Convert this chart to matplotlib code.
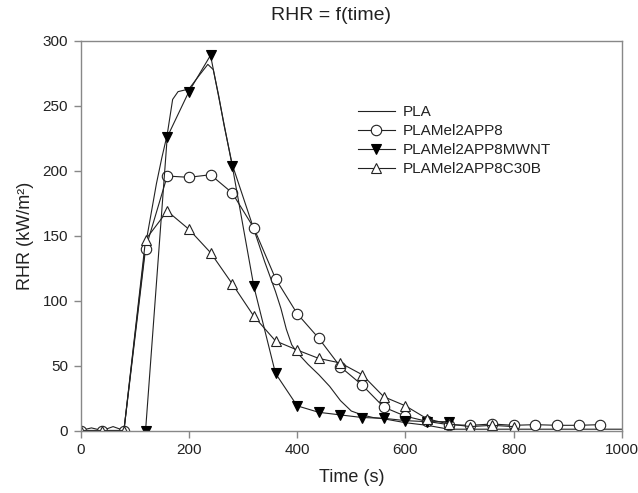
import matplotlib
matplotlib.use("Agg")
import matplotlib.pyplot as plt

plt.rcParams['font.family'] = ['Liberation Sans', 'DejaVu Sans']

# PLA (smooth line, no markers)
pla_t = [0, 20, 40, 60, 80, 100, 120, 140, 150, 160, 170, 180, 200, 220, 235, 245, 255, 265,
         280, 300, 320, 340, 360, 370, 380, 390, 400, 420, 440, 460, 480, 500, 520, 540, 560,
         600, 640, 680, 720, 800, 900, 1000]
pla_v = [0, 2, 0, 3, 0, 72, 143, 190, 210, 228, 255, 261, 263, 274, 282, 278, 258, 235,
         205, 180, 155, 130, 107, 94, 78, 66, 60, 51, 43, 34, 23, 15, 12, 10, 9,
         6, 4, 1, 1, 1, 1, 1]

# PLAMel2APP8 (open circles)
app8_t = [0, 40, 80, 120, 160, 200, 240, 280, 320, 360, 400, 440, 480, 520, 560, 600,
          640, 680, 720, 760, 800, 840, 880, 920, 960]
app8_v = [0, 0, 0, 140, 196, 195, 197, 183, 156, 117, 90, 71, 49, 35, 18, 11,
          7, 4.5, 4, 5, 4, 4.5, 4, 4, 4.5]

# PLAMel2APP8MWNT (filled down triangles)
mwnt_t = [120, 160, 200, 240, 280, 320, 360, 400, 440, 480, 520, 560, 600, 640, 680]
mwnt_v = [0, 226, 261, 289, 204, 111, 44, 19, 14, 12, 10, 9.4, 7.6, 6.8, 6.8]

# PLAMel2APP8C30B (open up triangles)
c30b_t = [0, 40, 80, 120, 160, 200, 240, 280, 320, 360, 400, 440, 480, 520, 560, 600,
          640, 680, 720, 760, 800]
c30b_v = [0, 0, 0, 147, 169, 155, 137, 113, 88, 69, 62, 55.5, 52, 43, 26, 19,
          9, 5, 3, 4, 3]

labels = ["PLA", "PLAMel2APP8", "PLAMel2APP8MWNT", "PLAMel2APP8C30B"]

fig = plt.figure(figsize=(6.38, 4.93), dpi=100)
ax = fig.add_axes([80.6/638, 1-430.5/493, (622-80.6)/638, (430.5-41)/493])

lw = 0.8
ms = 7.5
ax.plot(pla_t, pla_v, color='#222222', lw=lw, label=labels[0])
ax.plot(app8_t, app8_v, color='#222222', lw=lw, marker='o', ms=ms,
        mfc='white', mec='#222222', mew=0.8, label=labels[1])
ax.plot(mwnt_t, mwnt_v, color='#222222', lw=lw, marker='v', ms=ms,
        mfc='black', mec='black', mew=0.8, label=labels[2])
ax.plot(c30b_t, c30b_v, color='#222222', lw=lw, marker='^', ms=ms,
        mfc='white', mec='#222222', mew=0.8, label=labels[3])

ax.set_xlim(0, 1000)
ax.set_ylim(0, 300)
ax.set_xticks(range(0, 1001, 200))
ax.set_yticks(range(0, 301, 50))
for s in ax.spines.values():
    s.set_color('#888888')
    s.set_linewidth(1.0)
ax.tick_params(direction='out', length=5, width=1, color='#888888',
               labelsize=11, labelcolor='#222222', pad=4)

ax.set_xlabel("Time (s)", fontsize=13, color='#222222', labelpad=9)
ax.set_ylabel("RHR (kW/m²)", fontsize=13, color='#222222', labelpad=6)
fig.text(331/638, 1-16/493, "RHR = f(time)", fontsize=14, color='#222222',
         ha='center', va='center')

ax.legend(loc='upper left', bbox_to_anchor=(277.5/541.4, 1-64/389.5), frameon=False,
          fontsize=11, handlelength=2.4, labelspacing=0.33, handletextpad=0.5,
          borderpad=0, borderaxespad=0, labelcolor='#222222')

fig.savefig("out.png", dpi=100)
